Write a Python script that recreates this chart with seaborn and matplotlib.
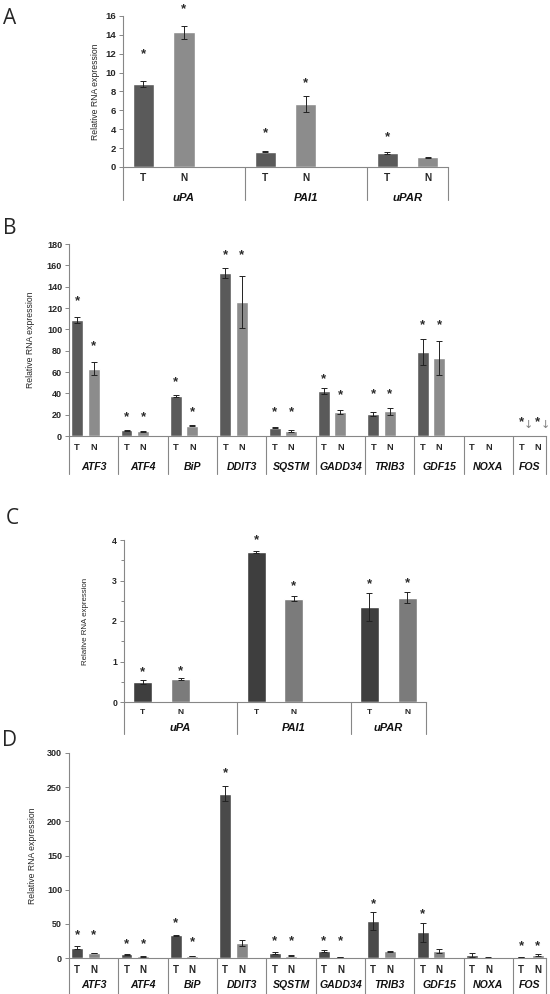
import numpy as np
import pandas as pd
import matplotlib
matplotlib.use('Agg')
import matplotlib.pyplot as plt
import seaborn as sns

# ---- data ----
a_genes = ['uPA', 'PAI1', 'uPAR']
a_t = [8.8, 1.62, 1.48]
a_t_err = [0.33, 0.05, 0.1]
a_n = [14.26, 6.65, 1.02]
a_n_err = [0.65, 0.85, 0.06]
a_t_star = [12.4, 4.0, 3.56]
a_n_star = [17.2, 9.33, np.nan]

b_genes = ['ATF3', 'ATF4', 'BiP', 'DDIT3', 'SQSTM', 'GADD34', 'TRIB3', 'GDF15', 'NOXA', 'FOS']
b_t = [109.0, 5.3, 37.8, 152.5, 7.6, 42.4, 20.3, 78.6, 0.0, 0.3]
b_t_err = [2.8, 0.7, 0.8, 4.6, 0.5, 2.8, 2.0, 12.5, 0.0, 0.0]
b_n = [63.0, 4.4, 9.8, 125.7, 4.7, 22.5, 23.0, 73.0, 0.0, 0.3]
b_n_err = [6.0, 0.5, 0.5, 24.0, 0.5, 1.6, 3.0, 15.6, 0.0, 0.0]
b_t_star = [130.7, 22, 54, 173, 26, 57, 42.7, 108, np.nan, 17]
b_n_star = [88, 22, 26, 173, 26, 42.4, 42.7, 108, np.nan, 17]
b_arrow = [np.nan] * 9 + [12.5]

c_genes = ['uPA', 'PAI1', 'uPAR']
c_t = [0.486, 3.71, 2.35]
c_t_err = [0.05, 0.03, 0.35]
c_n = [0.57, 2.55, 2.58]
c_n_err = [0.015, 0.06, 0.13]
c_t_star = [0.85, 4.1, 3.01]
c_n_star = [0.87, 2.97, 3.04]

d_genes = ['ATF3', 'ATF4', 'BiP', 'DDIT3', 'SQSTM', 'GADD34', 'TRIB3', 'GDF15', 'NOXA', 'FOS']
d_t = [15.1, 5.4, 33.0, 240.5, 7.3, 10.2, 53.7, 37.6, 4.4, 1.5]
d_t_err = [2.0, 0.8, 1.0, 11.0, 0.8, 0.8, 13.0, 14.0, 3.0, 0.3]
d_n = [7.3, 2.4, 3.0, 22.0, 3.4, 1.5, 9.8, 10.2, 1.0, 4.4]
d_n_err = [0.5, 0.5, 0.6, 5.0, 0.4, 0.3, 1.0, 2.5, 0.3, 1.0]
d_t_star = [40, 26, 57, 277, 30, 30, 85, 70.7, np.nan, 24]
d_n_star = [40, 26, 29, np.nan, 30, 30, np.nan, np.nan, np.nan, 24]

sns.set_theme(style='white')
plt.rcParams['font.family'] = ['Liberation Sans', 'DejaVu Sans']

W, H = 550, 994
fig = plt.figure(figsize=(W / 100, H / 100), dpi=100)
GRAY = '#878787'


def px_axes(l, r, t, b):
    return fig.add_axes([l / W, 1 - b / H, (r - l) / W, (b - t) / H])


def panel(ax, genes, t, t_err, n, n_err, t_star, n_star, colors, bar_w,
          ymax, step, tick_fs, tn_fs, tn_pad, gene_fs, gene_drop, sep_drop,
          ylab_x, ylab_fs, arrows=None, minor=None):
    order = []
    for i, g in enumerate(genes):
        order += [g + ' T', g + ' N']
        if i < len(genes) - 1:
            order.append('gap%d' % i)
    df = pd.DataFrame({
        'slot': [g + ' T' for g in genes] + [g + ' N' for g in genes],
        'cond': ['T'] * len(genes) + ['N'] * len(genes),
        'value': list(t) + list(n),
        'err': list(t_err) + list(n_err),
        'star': list(t_star) + list(n_star),
    })
    sns.barplot(data=df, x='slot', y='value', hue='cond', order=order,
                hue_order=['T', 'N'], palette=colors, dodge=False, width=bar_w,
                errorbar=None, legend=False, saturation=1, ax=ax)
    pos = df['slot'].map(order.index).values
    ax.errorbar(pos, df['value'], yerr=df['err'], fmt='none', ecolor='#222222',
                elinewidth=0.7, capsize=2, capthick=0.7)
    for x, s in zip(pos, df['star']):
        if not np.isnan(s):
            ax.annotate('*', (x, s), xytext=(0, -3), textcoords='offset points',
                        ha='center', va='center', fontsize=9.5, fontweight='bold',
                        color='#2a2a2a', annotation_clip=False)
    if arrows is not None:
        for x, s in zip(pos, list(arrows) * 2):
            if not np.isnan(s):
                ax.annotate('\u2193', (x + 0.45, s), xytext=(0, -2),
                            textcoords='offset points', ha='center', va='center',
                            fontsize=8, color='#808080', annotation_clip=False,
                            family=['DejaVu Sans'])

    ax.set_xlim(-0.5, len(order) - 0.5)
    ax.set_ylim(0, ymax)
    ax.set_yticks(np.arange(0, ymax + step / 2, step))
    if minor:
        ax.set_yticks(np.arange(0, ymax + minor / 2, minor), minor=True)
        ax.tick_params(axis='y', which='minor', left=True, length=2, width=0.7, color=GRAY)
    ax.set_xticks(pos)
    ax.set_xticklabels(df['cond'], fontsize=tn_fs, fontweight='bold')
    ax.tick_params(axis='x', length=0, pad=tn_pad)
    ax.tick_params(axis='y', left=True, length=3, width=0.7, color=GRAY,
                   labelsize=tick_fs, pad=2)
    for lab in ax.get_yticklabels():
        lab.set_fontweight('bold')
    ax.set_xlabel('')
    ax.set_ylabel('Relative RNA expression', fontsize=ylab_fs)
    ax.yaxis.set_label_coords(ylab_x, 0.5)
    sns.despine(ax=ax)
    for sp in ['left', 'bottom']:
        ax.spines[sp].set_color(GRAY)
        ax.spines[sp].set_linewidth(0.8)

    h_px = ax.get_position().height * H
    bounds = [-0.5] + [order.index(g + ' N') + 1.5 for g in genes[:-1]] + [len(order) - 0.5]
    tr = ax.get_xaxis_transform()
    for b in bounds:
        ax.plot([b, b], [0, -sep_drop / h_px], transform=tr, color=GRAY,
                lw=0.8, clip_on=False)
    for i, g in enumerate(genes):
        ax.text((bounds[i] + bounds[i + 1]) / 2, -gene_drop / h_px, g,
                transform=tr, ha='center', va='center', fontsize=gene_fs,
                fontweight='bold', fontstyle='italic', color='#111111')


# A
ax_a = px_axes(123, 448, 16, 167)
panel(ax_a, a_genes, a_t, a_t_err, a_n, a_n_err, a_t_star, a_n_star,
      {'T': '#5a5a5a', 'N': '#8c8c8c'}, 0.52, 16, 2, 6.8, 7.3, 4.6, 8.2, 31, 33,
      (100 - 123) / 325, 6.2)

# B
ax_b = px_axes(69, 546, 244, 436)
panel(ax_b, b_genes, b_t, b_t_err, b_n, b_n_err, b_t_star, b_n_star,
      {'T': '#5a5a5a', 'N': '#8c8c8c'}, 0.72, 180, 20, 6.5, 6.7, 4.7, 7.6, 31, 38,
      (35 - 69) / 477, 6.2, arrows=b_arrow)

# C
ax_c = px_axes(124, 426, 540, 702)
panel(ax_c, c_genes, c_t, c_t_err, c_n, c_n_err, c_t_star, c_n_star,
      {'T': '#3e3e3e', 'N': '#7b7b7b'}, 0.5, 4, 1, 6.3, 6, 5, 8, 26, 32,
      (89 - 124) / 302, 5.7, minor=0.5)

# D
ax_d = px_axes(69, 546, 753, 958)
panel(ax_d, d_genes, d_t, d_t_err, d_n, d_n_err, d_t_star, d_n_star,
      {'T': '#4a4a4a', 'N': '#878787'}, 0.72, 300, 50, 6.5, 7, 4.7, 7.6, 27, 36,
      (37 - 69) / 477, 6.2)

for letter, x, y in [('A', 10, 19), ('B', 10, 229), ('C', 12, 518), ('D', 10, 740)]:
    fig.text(x / W, 1 - y / H, letter, fontsize=15, ha='center', va='center',
             family=['Open Sans', 'DejaVu Sans'])

fig.savefig('out.png', dpi=100)
